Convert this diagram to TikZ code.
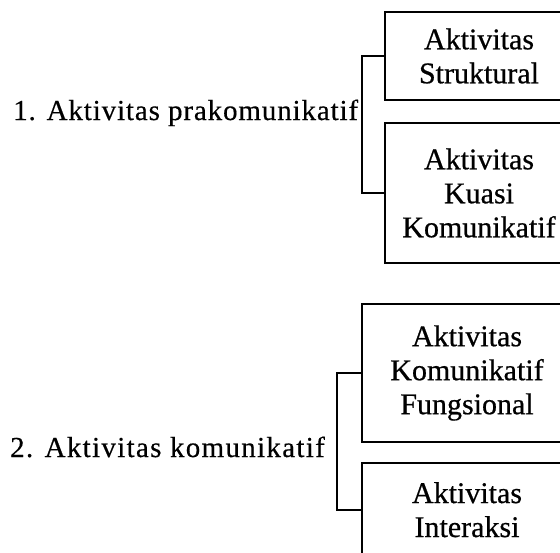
\documentclass[tikz,border=0pt]{standalone}
\usepackage{fontspec}
\setmainfont{Liberation Serif}
\begin{document}
\begin{tikzpicture}[x=1pt,y=-1pt,
  boxnode/.style={draw,line width=1.8pt,inner sep=0pt,align=center,
    font=\fontsize{30}{34}\selectfont\addfontfeature{FakeBold=0.6}},
  boxtext/.style={inner sep=0pt,align=center,anchor=base,
    font=\fontsize{30}{34}\selectfont\addfontfeature{FakeBold=0.6}},
  labelnode/.style={anchor=base west,inner sep=0pt,
    font=\fontsize{29}{34}\selectfont\addfontfeature{LetterSpace=3,FakeBold=0.4}},
  bracket/.style={line width=1.8pt}]
\clip (0,0) rectangle (560,552);
\fill[white] (0,0) rectangle (560,552);
% boxes
\node[boxnode,minimum width=188pt,minimum height=88pt] (b1) at (479,56) {Aktivitas\\Struktural};
\node[boxnode,minimum width=188pt,minimum height=140pt] (b2) at (479,193) {Aktivitas\\Kuasi\\Komunikatif};
\node[boxnode,minimum width=210pt,minimum height=138pt] (b3) at (467,373) {Aktivitas\\Komunikatif\\Fungsional};
\node[boxnode,minimum width=210pt,minimum height=94pt] (b4) at (467,510) {};
\node[boxtext] (b4t) at (467,537) {Aktivitas\\Interaksi};
% labels
\node[labelnode] (t1) at (13,120) {1. Aktivitas prakomunikatif};
\node[labelnode,font=\fontsize{29}{34}\selectfont\addfontfeature{LetterSpace=4.5,FakeBold=0.4}] (t2) at (10,457) {2. Aktivitas komunikatif};
% brackets
\draw[bracket] (b1.west) -- ++(-22,0) |- (b2.west);
\draw[bracket] (b3.west) -- ++(-24,0) |- (b4.west);
\end{tikzpicture}
\end{document}
